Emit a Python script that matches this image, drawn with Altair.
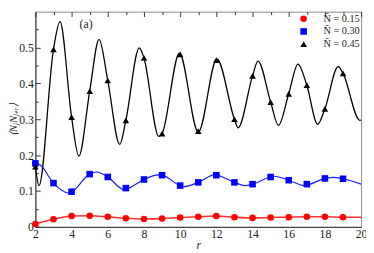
import altair as alt
import pandas as pd

# ---- data ----
series_names = ["N\u0304 = 0.15", "N\u0304 = 0.30", "N\u0304 = 0.45"]
series_colors = ["#ff0000", "#0000ff", "#000000"]
series_shapes = ["circle", "square", "triangle-up"]

marker_r = list(range(2, 20))
red_vals = [0.008, 0.021, 0.030, 0.031, 0.028, 0.024, 0.022, 0.023, 0.026,
            0.028, 0.030, 0.027, 0.025, 0.026, 0.027, 0.028, 0.028, 0.027]
blue_vals = [0.177, 0.122, 0.098, 0.147, 0.139, 0.108, 0.132, 0.144, 0.115,
             0.124, 0.144, 0.124, 0.119, 0.139, 0.130, 0.119, 0.135, 0.134]
black_vals = [0.168, 0.495, 0.306, 0.378, 0.408, 0.297, 0.471, 0.260, 0.481,
              0.267, 0.465, 0.300, 0.421, 0.348, 0.371, 0.395, 0.329, 0.428]

red_curve_r = marker_r + [20]
red_curve_v = red_vals + [0.027]

blue_curve_r = [2.0, 2.25, 3.0, 3.85, 5.0, 5.4, 6.0, 6.9, 8.0, 8.8, 9.0, 10.2, 11.0,
                11.9, 13.0, 13.6, 14.0, 15.2, 16.0, 16.85, 18.0, 18.46, 19.0, 20.0]
blue_curve_v = [0.177, 0.173, 0.122, 0.094, 0.147, 0.153, 0.139, 0.104, 0.132, 0.145, 0.144, 0.112, 0.124,
                0.145, 0.124, 0.115, 0.119, 0.141, 0.130, 0.115, 0.135, 0.138, 0.134, 0.119]

black_curve_r = [2.0, 2.2, 3.0, 3.36, 4.0, 4.4, 5.0, 5.52, 6.0, 6.66, 7.0, 7.74, 8.0, 8.82,
                 9.0, 9.96, 11.0, 12.03, 13.0, 13.2, 14.0, 14.3, 15.0, 15.43, 16.0, 16.51,
                 17.0, 17.6, 18.0, 18.73, 19.0, 19.93, 20.0]
black_curve_v = [0.168, 0.115, 0.495, 0.572, 0.306, 0.197, 0.378, 0.523, 0.408, 0.230,
                 0.297, 0.499, 0.471, 0.252, 0.260, 0.484, 0.264, 0.468, 0.300, 0.276,
                 0.421, 0.462, 0.348, 0.283, 0.371, 0.454, 0.395, 0.286, 0.329, 0.447,
                 0.428, 0.297, 0.298]

x_ticks = list(range(2, 21))
y_ticks = [0.0, 0.05, 0.1, 0.15, 0.2, 0.25, 0.3, 0.35, 0.4, 0.45, 0.5, 0.55]

# ---- tables ----
pts = pd.DataFrame({
    "r": marker_r * 3,
    "v": red_vals + blue_vals + black_vals,
    "series": [series_names[0]] * 18 + [series_names[1]] * 18 + [series_names[2]] * 18,
})
red_df = pd.DataFrame({"r": red_curve_r, "v": red_curve_v})
blue_df = pd.DataFrame({"r": blue_curve_r, "v": blue_curve_v})
black_df = pd.DataFrame({"r": black_curve_r, "v": black_curve_v})
lab_df = pd.DataFrame({"r": [4.8], "v": [0.565], "t": ["(a)"]})

FONT = "Liberation Serif"

xscale = alt.Scale(domain=[2, 20], nice=False, zero=False)
yscale = alt.Scale(domain=[0, 0.6], nice=False, zero=False)

xaxis = alt.Axis(
    values=x_ticks, ticks=False, grid=True, gridColor="#333", gridWidth=1,
    gridDash={"condition": {"test": "datum.value % 2 == 1", "value": [3, 2000]},
              "value": [5, 2000]},
    labelExpr="datum.value % 2 == 0 ? datum.label : ''",
    labelOverlap=False, labelFlush=False, labelBound=False,
    labelPadding=2, labelFont=FONT, labelFontSize=12, labelColor="#222",
    domainColor="#333", title="r", titleFont=FONT, titleFontStyle="italic",
    titleFontWeight="normal", titleFontSize=12, titlePadding=0, titleColor="#222",
)
yaxis = alt.Axis(
    values=y_ticks, ticks=False, grid=True, gridColor="#333", gridWidth=1,
    gridDash={"condition": {"test": "round(datum.value*100) % 10 != 0", "value": [3, 2000]},
              "value": [5, 2000]},
    format=".1~f",
    labelExpr="round(datum.value*100) % 10 == 0 ? datum.label : ''",
    labelOverlap=False, labelFlush=False, labelBound=False,
    labelPadding=2, labelFont=FONT, labelFontSize=12, labelColor="#222",
    domainColor="#333",
    title="\u27e8N\u2c7cN\u2c7c\u208a\u1d63\u27e9", titleFont=FONT, titleFontStyle="italic",
    titleFontWeight="normal", titleFontSize=11, titlePadding=0, titleColor="#222",
)

X = alt.X("r:Q", scale=xscale, axis=xaxis)
Y = alt.Y("v:Q", scale=yscale, axis=yaxis)

def curve(df, color, width):
    return alt.Chart(df).mark_line(interpolate="monotone", color=color,
                                   strokeWidth=width).encode(x=X, y=Y)

legend = alt.Legend(title=None, orient="none", legendX=269, legendY=2,
                    labelFont=FONT, labelFontSize=10.5, labelColor="#222",
                    symbolSize=45, symbolStrokeWidth=0, labelOffset=15,
                    rowPadding=2, padding=0)

points = alt.Chart(pts).mark_point(filled=True, size=45, opacity=1).encode(
    x=X, y=Y,
    color=alt.Color("series:N", scale=alt.Scale(domain=series_names, range=series_colors),
                    legend=legend),
    shape=alt.Shape("series:N", scale=alt.Scale(domain=series_names, range=series_shapes),
                    legend=legend),
)

label = alt.Chart(lab_df).mark_text(font=FONT, fontSize=12, color="#222").encode(
    x=X, y=Y, text="t:N"
)

chart = alt.layer(
    curve(black_df, "#000000", 1.3),
    curve(blue_df, "#1a1aff", 1.2),
    curve(red_df, "#ff3030", 1.6),
    points,
    label,
).properties(
    width=333, height=220,
    padding={"left": 28, "top": 1, "right": 5, "bottom": 24},
    autosize=alt.AutoSizeParams(type="none"),
).configure(font=FONT).configure_axis(labelOverlap=False).configure_view(
    stroke="#888", strokeWidth=1)

chart.save("out.html", embed_options={"renderer": "svg", "actions": False})
